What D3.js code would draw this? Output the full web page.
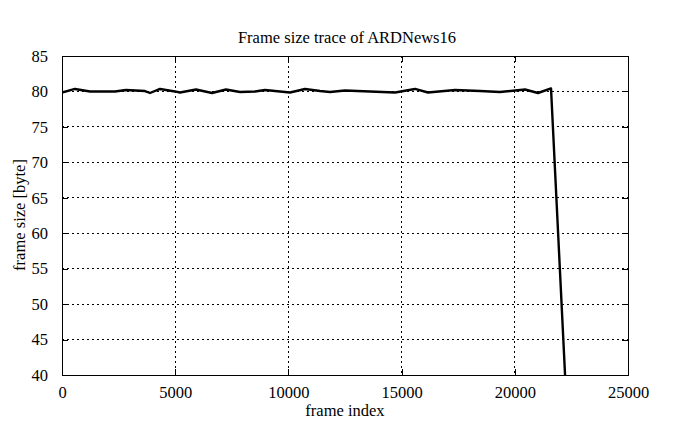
<!DOCTYPE html>
<html>
<head>
<meta charset="utf-8">
<script src="https://cdn.jsdelivr.net/npm/d3@7"></script>
<style>
body{margin:0;background:#fff;}
svg{display:block;}
svg text{font-family:"Liberation Serif","DejaVu Serif",serif !important;fill:#000;}
</style>
</head>
<body>
<svg id="chart" width="695" height="429"></svg>
<script>
const title = "Frame size trace of ARDNews16";
const xLabel = "frame index";
const yLabel = "frame size [byte]";
const xTicks = [0, 5000, 10000, 15000, 20000, 25000];
const yTicks = [40, 45, 50, 55, 60, 65, 70, 75, 80, 85];
const frameIndex = [0, 574, 1237, 2341, 2827, 3666, 3887, 4329, 4991, 5212, 5919, 6626, 7244, 7862, 8525, 8967, 10071, 10733, 11396, 11838, 12500, 13604, 14708, 15592, 16166, 17359, 18463, 19346, 20451, 21025, 21600, 22220];
const frameSize = [79.85, 80.35, 79.99, 80.0, 80.2, 80.06, 79.78, 80.35, 80.0, 79.85, 80.27, 79.78, 80.27, 79.92, 80.0, 80.2, 79.85, 80.35, 80.06, 79.92, 80.13, 80.0, 79.85, 80.35, 79.85, 80.2, 80.06, 79.92, 80.27, 79.78, 80.42, 40];

const FONT = '"Liberation Serif","DejaVu Serif",serif';
const FS = "16.5px";
const svg = d3.select("#chart");
const m = {left: 62, right: 628, top: 56, bottom: 375};
const x = d3.scaleLinear().domain([0, 25000]).range([m.left, m.right]);
const y = d3.scaleLinear().domain([40, 85]).range([m.bottom, m.top]);

// grid
const g = svg.append("g");
g.selectAll(".gx").data(xTicks.filter(t => t > 0 && t < 25000)).join("line")
  .attr("x1", d => x(d)).attr("x2", d => x(d)).attr("y1", m.top).attr("y2", m.bottom)
  .attr("stroke", "#000").attr("stroke-width", 1).attr("stroke-dasharray", "2,3").attr("shape-rendering","crispEdges");
g.selectAll(".gy").data(yTicks.filter(t => t > 40 && t < 85)).join("line")
  .attr("x1", m.left).attr("x2", m.right).attr("y1", d => y(d)).attr("y2", d => y(d))
  .attr("stroke", "#000").attr("stroke-width", 1).attr("stroke-dasharray", "2,3").attr("shape-rendering","crispEdges");

// axes
const fmt = d3.format("d");
const axB = svg.append("g").attr("transform", `translate(0,${m.bottom})`)
  .call(d3.axisBottom(x).tickValues(xTicks).tickFormat(fmt).tickSize(-6).tickPadding(11));
const axT = svg.append("g").attr("transform", `translate(0,${m.top})`)
  .call(d3.axisTop(x).tickValues(xTicks).tickFormat("").tickSize(-6));
const axL = svg.append("g").attr("transform", `translate(${m.left},0)`)
  .call(d3.axisLeft(y).tickValues(yTicks).tickFormat(fmt).tickSize(-6).tickPadding(14));
const axR = svg.append("g").attr("transform", `translate(${m.right},0)`)
  .call(d3.axisRight(y).tickValues(yTicks).tickFormat("").tickSize(-6));
[axB, axT, axL, axR].forEach(a => {
  a.attr("font-family", FONT).attr("font-size", FS);
  a.select(".domain").remove();
  a.selectAll("line").attr("stroke", "#000").attr("shape-rendering","crispEdges");
  a.selectAll("text").attr("font-family", FONT).attr("font-size", FS).attr("fill", "#000");
});

// frame
svg.append("rect").attr("x", m.left).attr("y", m.top)
  .attr("width", m.right - m.left).attr("height", m.bottom - m.top)
  .attr("fill", "none").attr("stroke", "#000").attr("stroke-width", 1).attr("shape-rendering","crispEdges");

// clip
svg.append("clipPath").attr("id", "clip").append("rect")
  .attr("x", m.left).attr("y", m.top).attr("width", m.right - m.left).attr("height", m.bottom - m.top);

const data = frameIndex.map((f, i) => ({f, v: frameSize[i]}));
svg.append("path").datum(data)
  .attr("clip-path", "url(#clip)")
  .attr("fill", "none").attr("stroke", "#000").attr("stroke-width", 2.4).attr("stroke-linejoin", "round")
  .attr("d", d3.line().x(d => x(d.f)).y(d => y(d.v)));

// labels
svg.append("text").attr("x", 347).attr("y", 43).attr("text-anchor", "middle").attr("font-family", FONT).attr("font-size", FS).text(title);
svg.append("text").attr("x", 345).attr("y", 416).attr("text-anchor", "middle").attr("font-family", FONT).attr("font-size", FS).text(xLabel);
svg.append("text").attr("transform", "translate(25,215) rotate(-90)").attr("text-anchor", "middle").attr("font-family", FONT).attr("font-size", FS).text(yLabel);
</script>
</body>
</html>
